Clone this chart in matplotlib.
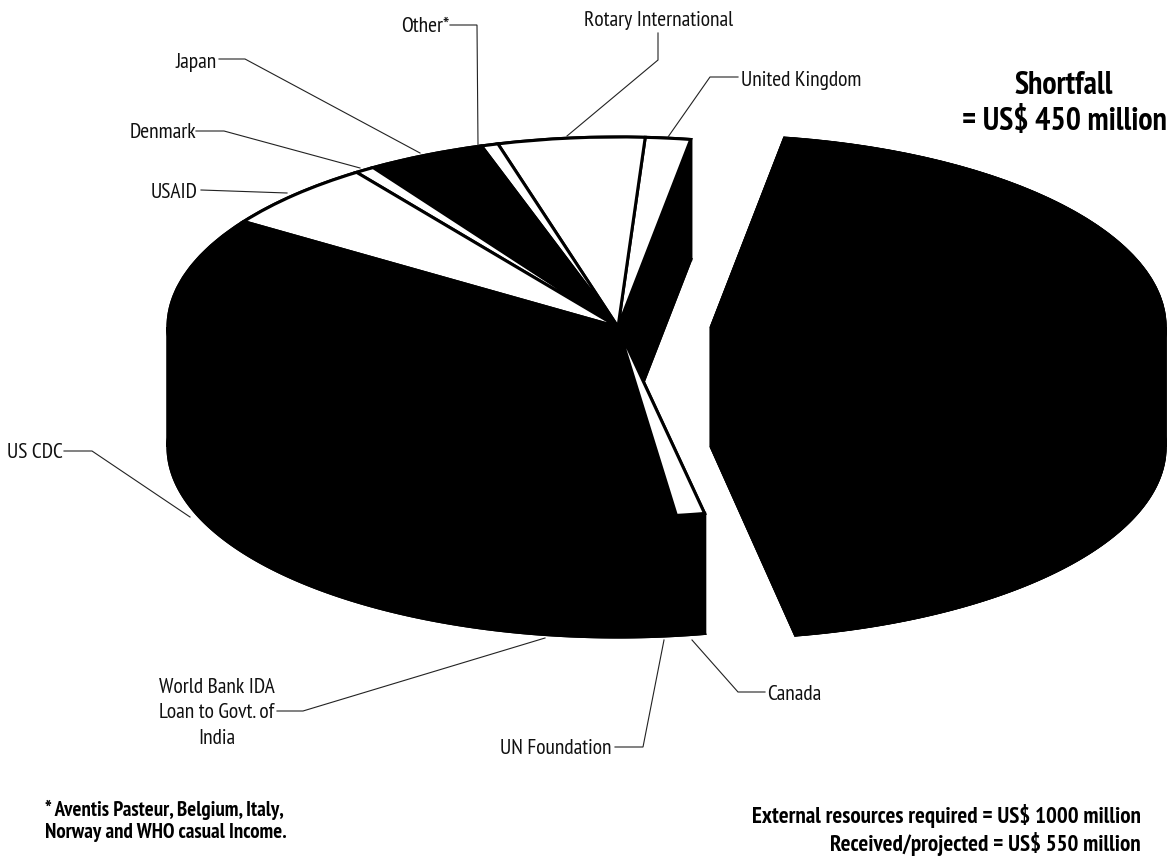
"""Polio funding pie: received vs shortfall, drawn as an extruded black pie."""

import logging

import matplotlib

matplotlib.use("Agg")

import matplotlib.pyplot as plt
import numpy as np

logging.getLogger("matplotlib.font_manager").setLevel(logging.ERROR)

DONORS = ["United Kingdom", "Rotary International", "Other*", "Japan", "Denmark", "USAID",
          "US CDC", "World Bank IDA", "UN Foundation", "Canada"]
RECEIVED = [16, 52, 6, 42, 7, 57, 297, 44, 19, 10]
DONOR_COLORS = ["white", "white", "white", "black", "white", "white", "black", "black", "black", "white"]
SHORTFALL = [450]

FONT = ["PT Sans Narrow", "Fira Sans Extra Condensed", "Sofia Sans Condensed", "Roboto Condensed",
        "Liberation Sans", "DejaVu Sans"]
W, H = 1172, 859

# pie geometry in pixels of the final picture
CX, CY, RX, RY, DEPTH = 618, 327, 450, 190, 120
RIGHT_CX = 710
START = 80.7
RECEIVED_SPAN = 200.4
SHORTFALL_SPAN = 160.0


def arc(center_x, radius, a0, a1, drop=0.0):
    t = np.radians(np.linspace(a0, a1, 200))
    return center_x + radius * np.cos(t), radius * np.sin(t) - drop


def draw_wall(ax, center_x, radius, a0, a1, turn, edge):
    """Black side of an extruded wedge: the rim (split where x turns back) and both cut faces."""
    drop = DEPTH / RY
    style = {"facecolor": "black", "edgecolor": "black", "linewidth": edge}
    for lo, hi in ((a0, turn), (turn, a1)):
        x_top, y_top = arc(center_x, radius, lo, hi)
        x_bot, y_bot = arc(center_x, radius, lo, hi, drop)
        ax.fill(np.r_[x_top, x_bot[::-1]], np.r_[y_top, y_bot[::-1]], **style)
    for ang in (a0, a1):
        x_top, y_top = arc(center_x, radius, ang, ang)
        x_bot, y_bot = arc(center_x, radius, ang, ang, drop)
        ax.fill([center_x, x_top[0], x_bot[0], center_x], [0, y_top[0], y_bot[0], -drop], **style)
    # bottom face
    x_bot, y_bot = arc(center_x, radius, a0, a1, drop)
    ax.fill(np.r_[center_x, x_bot], np.r_[-drop, y_bot], **style)


fig = plt.figure(figsize=(W / 100, H / 100), dpi=100)
ax = fig.add_axes([0, 0, 1, 1])

deg_received = RECEIVED_SPAN / sum(RECEIVED)
deg_short = SHORTFALL_SPAN / sum(SHORTFALL)

# shortfall piece, pulled out to the right
short_center = (RIGHT_CX - CX) / RX
short_r = 1.014
draw_wall(ax, short_center, short_r, START - SHORTFALL_SPAN, START, 0, 0.5)
ax.pie([v * deg_short / 360 for v in SHORTFALL], colors=["black"], startangle=START - SHORTFALL_SPAN,
       center=(short_center, 0), radius=short_r, normalize=False,
       wedgeprops={"edgecolor": "black", "linewidth": 0.5})

# received piece
draw_wall(ax, 0, 1, START, START + RECEIVED_SPAN, 180, 2.2)
ax.pie([v * deg_received / 360 for v in RECEIVED], colors=DONOR_COLORS, startangle=START,
       center=(0, 0), radius=1, normalize=False,
       wedgeprops={"edgecolor": "black", "linewidth": 2.2, "joinstyle": "miter"})

ax.set_xlim(-CX / RX, (W - CX) / RX)
ax.set_ylim((CY - H) / RY, CY / RY)
ax.set_aspect("auto")
ax.axis("off")

# leaders and labels live on a pixel overlay
over = fig.add_axes([0, 0, 1, 1], facecolor="none")
over.set_xlim(0, W)
over.set_ylim(H, 0)
over.axis("off")

leaders = [
    ([450, 477, 478], [25, 25, 145]),
    ([219, 245, 420], [59, 59, 153]),
    ([196, 224, 360], [131, 131, 168]),
    ([201, 287], [190, 193]),
    ([658, 658, 567], [33, 60, 136]),
    ([738, 710, 668], [77, 77, 137]),
    ([64, 92, 190], [451, 451, 517]),
    ([277, 303, 545], [711, 711, 638]),
    ([615, 643, 664], [747, 747, 640]),
    ([765, 738, 692], [692, 692, 640]),
]
for xs, ys in leaders:
    over.plot(xs, ys, color="#222222", lw=0.8, solid_joinstyle="miter")

labels = [
    ("Other*", 449, 27, "right"),
    ("Rotary International", 659, 20, "center"),
    ("Japan", 217, 62, "right"),
    ("United Kingdom", 741, 80, "left"),
    ("Denmark", 196, 132, "right"),
    ("USAID", 198, 192, "right"),
    ("US CDC", 63, 452, "right"),
    ("World Bank IDA\nLoan to Govt. of\nIndia", 217, 713, "center"),
    ("UN Foundation", 612, 748, "right"),
    ("Canada", 767, 695, "left"),
]
for text, x, y, ha in labels:
    over.text(x, y, text, ha=ha, va="center", family=FONT, fontsize=15.5, color="#111111", linespacing=1.45)

over.text(1064, 104, "Shortfall\n= US$ 450 million", ha="center", va="center", family=FONT, fontsize=23,
          fontweight="bold", linespacing=1.25)
over.text(1141, 830, "External resources required = US$ 1000 million\nReceived/projected = US$ 550 million",
          ha="right", va="center", family=FONT, fontsize=16.6, fontweight="bold", multialignment="right",
          linespacing=1.2)
over.text(45, 821, "* Aventis Pasteur, Belgium, Italy,\nNorway and WHO casual Income.", ha="left", va="center",
          family=FONT, fontsize=15, fontweight="bold", linespacing=1.2)

fig.savefig("out.png", dpi=100)
